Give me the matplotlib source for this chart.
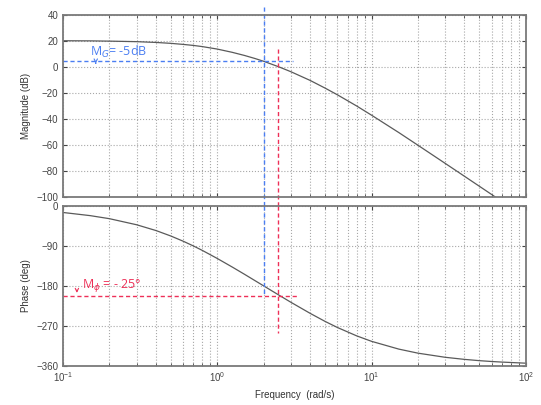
import numpy as np
import matplotlib
matplotlib.use('Agg')
import matplotlib.pyplot as plt

# values
freq_mag = [0.1, 0.15, 0.2, 0.3, 0.4, 0.5, 0.6, 0.7, 0.8, 1.0, 1.25, 1.5, 1.75, 2.0,
            2.5, 3.0, 4.0, 5.0, 6.0, 8.0, 10, 15, 20, 30, 40, 50, 60, 63, 70]
mag_db = [19.9, 19.8, 19.6, 19.2, 18.6, 17.9, 17.1, 16.3, 15.4, 13.5, 11.0, 8.6, 6.3, 4.1,
          -0.1, -3.9, -10.6, -16.5, -21.6, -30.2, -37.3, -50.6, -60.4, -74.3, -84.2, -91.9,
          -98.2, -99.9, -103.6]

freq_ph = [0.1, 0.15, 0.2, 0.3, 0.4, 0.5, 0.6, 0.7, 0.8, 1.0, 1.25, 1.5, 1.75, 2.0,
           2.5, 3.0, 4.0, 5.0, 6.0, 8.0, 10, 15, 20, 30, 40, 50, 60, 70, 100]
phase_deg = [-14.3, -21.4, -28.3, -42.0, -55.0, -67.4, -79.0, -89.8, -99.9, -118.1, -137.4,
             -153.7, -167.8, -180.0, -200.4, -216.9, -241.9, -260.1, -273.7, -292.6, -305.0,
             -322.5, -331.7, -341.0, -345.7, -348.6, -350.5, -351.8, -354.3]

mag_ticks = [40, 20, 0, -20, -40, -60, -80, -100]
phase_ticks = [0, -90, -180, -270, -360]

# margin annotations
w_pc = 2.0       # phase crossover (rad/s)
w_gc = 2.49      # gain crossover (rad/s)
mg_level = 4.6   # dB at phase crossover
pm_level = -202  # deg at gain crossover

blue = '#4b7ef2'
red = '#ee3058'
frame = '#7a7a7a'
curve = '#5a5a5a'

plt.rcParams['font.family'] = ['Liberation Sans', 'DejaVu Sans']

fig = plt.figure(figsize=(5.41, 4.05), dpi=100)
ax1 = fig.add_axes([0.1165, 0.514, 0.8555, 0.450])
ax2 = fig.add_axes([0.1165, 0.097, 0.8555, 0.394])

for ax in (ax1, ax2):
    ax.set_xscale('log')
    ax.set_xlim(0.1, 100)
    ax.grid(True, which='major', linestyle=':', color='#a8a8a8', linewidth=0.8)
    ax.grid(True, which='minor', axis='x', linestyle=':', color='#a8a8a8', linewidth=0.8)
    ax.tick_params(which='both', direction='in', top=True, right=True,
                   labelsize=7, colors='#444444', length=3)
    ax.tick_params(which='minor', length=2)
    for sp in ax.spines.values():
        sp.set_color(frame)
        sp.set_linewidth(1.3)

ax1.plot(freq_mag, mag_db, color=curve, lw=0.9)
ax1.set_ylim(-100, 40)
ax1.set_yticks(mag_ticks)
ax1.tick_params(labelbottom=False)
ax1.set_ylabel('Magnitude (dB)', fontsize=7, color='#333333')

ax2.plot(freq_ph, phase_deg, color=curve, lw=0.9)
ax2.set_ylim(-360, 0)
ax2.set_yticks(phase_ticks)
ax2.set_ylabel('Phase (deg)', fontsize=7, color='#333333')
ax2.set_xlabel('Frequency  (rad/s)', fontsize=7, color='#333333')

dash = dict(linestyle=(0, (3, 2)), lw=1.0, clip_on=False)

# gain margin (blue)
ax1.plot([w_pc, w_pc], [46, -108], color=blue, **dash)
ax2.plot([w_pc, w_pc], [0, pm_level], color=blue, **dash)
ax1.plot([0.1, 3.08], [mg_level, mg_level], color=blue, **dash)
ax1.text(0.149, 8.6, r'M$_G$= -5dB', color=blue, fontsize=9, family=['Open Sans', 'DejaVu Sans'])
ax1.annotate('', xy=(0.163, 0.3), xytext=(0.163, mg_level),
             arrowprops=dict(arrowstyle='->', color=blue, lw=0.8, mutation_scale=6))

# phase margin (red)
ax1.plot([w_gc, w_gc], [13.6, -108], color=red, **dash)
ax2.plot([w_gc, w_gc], [0, -287], color=red, **dash)
ax2.plot([0.1, 3.29], [pm_level, pm_level], color=red, **dash)
ax2.text(0.132, -184, r'M$_\phi$ = - 25°', color=red, fontsize=9, family=['Open Sans', 'DejaVu Sans'])
ax2.annotate('', xy=(0.123, pm_level), xytext=(0.123, -183),
             arrowprops=dict(arrowstyle='->', color=red, lw=0.8, mutation_scale=6))

fig.savefig('out.png', dpi=100)
